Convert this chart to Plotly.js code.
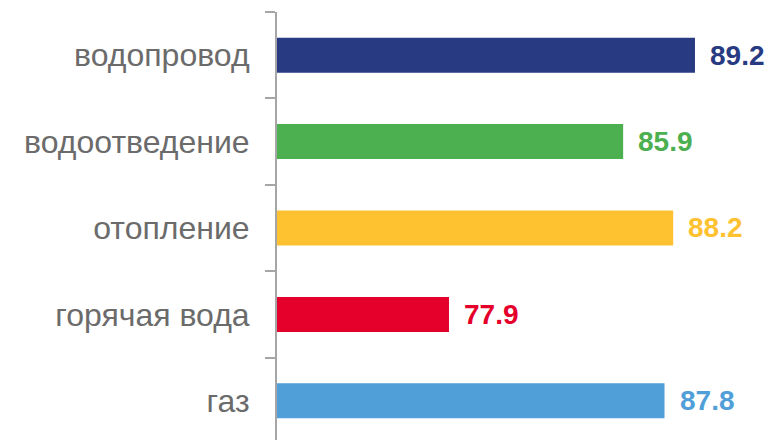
<!DOCTYPE html>
<html>
<head>
<meta charset="utf-8">
<script src="https://cdn.plot.ly/plotly-3.0.1.min.js"></script>
<style>html,body{margin:0;padding:0;overflow:hidden;background:#fff;}</style>
</head>
<body>
<div id="chart" style="width:769px;height:440px;"></div>
<script>
// bottom to top
const categories = ["газ", "горячая вода", "отопление", "водоотведение", "водопровод"];
const values = [87.8, 77.9, 88.2, 85.9, 89.2];
const colors = ["#519fd9", "#e4002b", "#fec12f", "#4caf50", "#283a81"];

const trace = {
  type: "bar",
  orientation: "h",
  y: categories,
  x: values,
  base: 0,
  marker: {color: colors},
  width: 0.405,
  hoverinfo: "none"
};

const annotations = categories.map((c, i) => ({
  x: values[i],
  y: c,
  xref: "x",
  yref: "y",
  text: values[i].toFixed(1),
  showarrow: false,
  xanchor: "left",
  yanchor: "middle",
  xshift: 13,
  font: {family: "Liberation Sans, Arial, sans-serif", size: 28, color: colors[i], weight: "bold"}
}));

const layout = {
  width: 769,
  height: 440,
  margin: {l: 277, r: 0, t: 12, b: 0},
  paper_bgcolor: "#ffffff",
  plot_bgcolor: "#ffffff",
  showlegend: false,
  xaxis: {
    range: [70, 92.6],
    visible: false,
    showgrid: false,
    zeroline: false
  },
  yaxis: {
    type: "category",
    range: [-0.454, 4.5],
    showline: true,
    linecolor: "#a6a6a6",
    linewidth: 2,
    ticks: "outside",
    ticklen: 10,
    tickwidth: 2,
    tickcolor: "#a6a6a6",
    tickson: "boundaries",
    ticklabelstandoff: 19,
    showgrid: false,
    zeroline: false,
    tickfont: {family: "Liberation Sans, Arial, sans-serif", size: 32, color: "#6b6b6b"}
  },
  annotations: annotations
};

Plotly.newPlot("chart", [trace], layout, {displayModeBar: false, staticPlot: true});
</script>
</body>
</html>
